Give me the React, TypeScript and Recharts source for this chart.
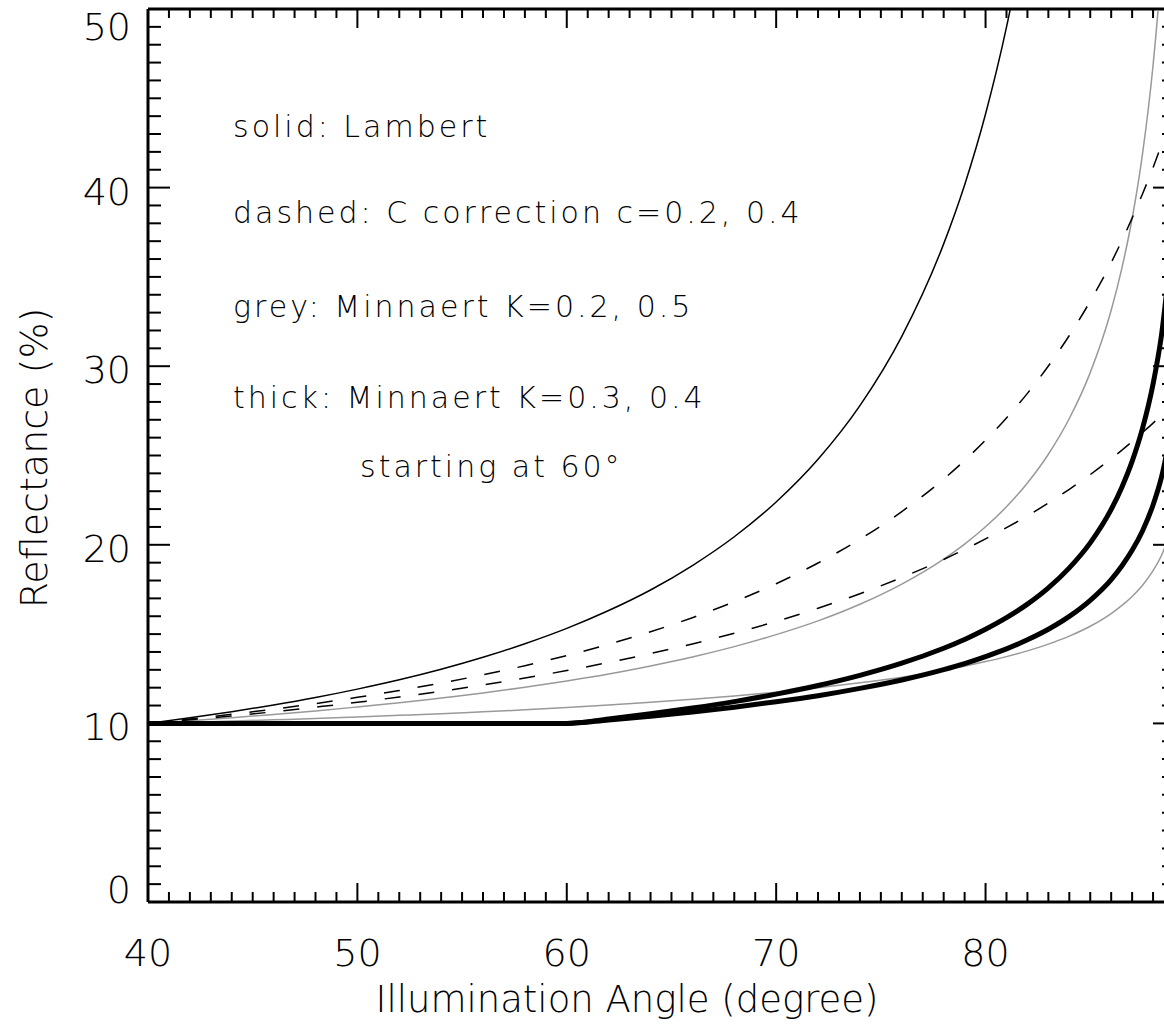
import React from "react";
import { LineChart, Line, XAxis, YAxis, ReferenceLine } from "recharts";

// illumination angle (degree)
const angles = [
  40, 42, 44, 46, 48, 50, 52, 54, 56, 58, 60, 62, 64, 66, 68, 70, 72, 74, 76, 78,
  79, 80, 81, 82, 83, 84, 85, 86, 86.5, 87, 87.5, 88, 88.4, 89,
];

// reflectance (%)
const lambert = [
  10, 10.31, 10.65, 11.03, 11.45, 11.92, 12.44, 13.03, 13.7, 14.46, 15.32, 16.32, 17.47, 18.84, 20.45, 22.4, 24.79, 27.79, 31.67, 36.85,
  40.15, 44.12, 48.98, 55.03, null, null, null, null, null, null, null, null, null, null,
];
const cCorr02 = [
  10, 10.24, 10.51, 10.8, 11.11, 11.46, 11.84, 12.26, 12.72, 13.23, 13.8, 14.43, 15.13, 15.92, 16.81, 17.82, 18.98, 20.31, 21.86, 23.68,
  24.72, 25.86, 27.1, 28.48, 30.01, 31.72, 33.64, 35.8, 37.01, 38.29, 39.66, 41.12, 42.39, 44.42,
];
const cCorr04 = [
  10, 10.2, 10.42, 10.65, 10.91, 11.18, 11.48, 11.8, 12.16, 12.54, 12.96, 13.41, 13.91, 14.45, 15.05, 15.71, 16.45, 17.26, 18.17, 19.18,
  19.74, 20.33, 20.96, 21.62, 22.34, 23.11, 23.93, 24.82, 25.29, 25.78, 26.29, 26.81, 27.25, 27.93,
];
const minn02 = [
  10, 10.06, 10.13, 10.2, 10.27, 10.36, 10.45, 10.54, 10.65, 10.76, 10.89, 11.03, 11.18, 11.35, 11.54, 11.75, 11.99, 12.27, 12.59, 12.98,
  13.2, 13.46, 13.74, 14.06, 14.44, 14.89, 15.44, 16.15, 16.59, 17.11, 17.74, 18.55, 19.4, 21.31,
];
const minn05 = [
  10, 10.15, 10.32, 10.5, 10.7, 10.92, 11.15, 11.42, 11.7, 12.02, 12.38, 12.77, 13.22, 13.72, 14.3, 14.97, 15.74, 16.67, 17.8, 19.2,
  20.04, 21.01, 22.13, 23.46, 25.07, 27.07, 29.64, 33.13, 35.44, 38.27, 41.92, 46.85, 52.4, 66.25,
];
const thick03 = [
  10, 10, 10, 10, 10, 10, 10, 10, 10, 10, 10, 10.19, 10.4, 10.64, 10.91, 11.21, 11.55, 11.96, 12.43, 13.01,
  13.35, 13.74, 14.17, 14.68, 15.27, 15.99, 16.89, 18.05, 18.8, 19.69, 20.79, 22.23, 23.77, 27.36,
];
const thick04 = [
  10, 10, 10, 10, 10, 10, 10, 10, 10, 10, 10, 10.25, 10.54, 10.86, 11.22, 11.64, 12.12, 12.69, 13.37, 14.21,
  14.7, 15.27, 15.92, 16.68, 17.59, 18.71, 20.11, 21.98, 23.2, 24.67, 26.53, 29.0, 31.72, 38.27,
];

const xTicks = Array.from({ length: 50 }, (_, i) => 40 + i);
const yTicks = Array.from({ length: 51 }, (_, i) => i);

const notes = [
  "solid: Lambert",
  "dashed: C correction c=0.2, 0.4",
  "grey: Minnaert K=0.2, 0.5",
  "thick: Minnaert K=0.3, 0.4",
  "starting at 60°",
];

const data = angles.map((a, i) => ({
  angle: a,
  lambert: lambert[i],
  c02: cCorr02[i],
  c04: cCorr04[i],
  m02: minn02[i],
  m05: minn05[i],
  t03: thick03[i],
  t04: thick04[i],
}));

const W = 1180;
const H = 1032;
const TOP = 9;
const RIGHT = 1174;
const FONT = "'DejaVu Sans', sans-serif";

function XTick(props: any) {
  const { x, y, payload } = props;
  const v = payload.value;
  const major = v % 10 === 0;
  return (
    <g>
      <line x1={x} y1={y} x2={x} y2={y - (major ? 19 : 10)} stroke="#000" strokeWidth={2} />
      <line x1={x} y1={TOP} x2={x} y2={TOP + (major ? 19 : 9)} stroke="#000" strokeWidth={2} />
      {major && (
        <text x={x} y={y + 64} textAnchor="middle" fontFamily={FONT} fontWeight={200} fontSize={38} fill="#000">
          {v}
        </text>
      )}
    </g>
  );
}

function YTick(props: any) {
  const { x, y, payload } = props;
  const v = payload.value;
  const major = v % 10 === 0;
  const dy = v === 50 ? 31 : v === 0 ? 1 : 17;
  return (
    <g>
      <line x1={x} y1={y} x2={x + (major ? 22 : 13)} y2={y} stroke="#000" strokeWidth={2} />
      <line x1={RIGHT} y1={y} x2={RIGHT - (major ? 21 : 12)} y2={y} stroke="#000" strokeWidth={2} />
      {major && (
        <text x={x - 17} y={y + dy} textAnchor="end" fontFamily={FONT} fontWeight={200} fontSize={38} fill="#000">
          {v}
        </text>
      )}
    </g>
  );
}

const noteY = [137, 223, 317, 408, 477];

export default function App() {
  return (
    <div style={{ position: "absolute", left: 0, top: 0, width: 1164, height: 1032, overflow: "hidden", background: "#fff" }}>
      <LineChart width={W} height={H} data={data} margin={{ top: TOP, right: W - RIGHT, bottom: 0, left: 0 }}>
        <XAxis
          dataKey="angle"
          type="number"
          domain={[40, 89]}
          allowDataOverflow
          ticks={xTicks}
          interval={0}
          height={130}
          tickSize={0}
          tickMargin={0}
          tickLine={false}
          axisLine={{ stroke: "#000", strokeWidth: 3 }}
          tick={<XTick />}
        />
        <YAxis
          type="number"
          domain={[0, 50]}
          allowDataOverflow
          ticks={yTicks}
          interval={0}
          width={148}
          tickSize={0}
          tickMargin={0}
          tickLine={false}
          axisLine={{ stroke: "#000", strokeWidth: 3 }}
          tick={<YTick />}
        />
        <ReferenceLine y={50} stroke="#000" strokeWidth={3} />
        <ReferenceLine x={89} stroke="#000" strokeWidth={3} />
        <Line dataKey="m02" type="monotone" stroke="#999" strokeWidth={1.5} dot={false} isAnimationActive={false} />
        <Line dataKey="m05" type="monotone" stroke="#999" strokeWidth={1.5} dot={false} isAnimationActive={false} />
        <Line dataKey="c02" type="monotone" stroke="#000" strokeWidth={1.5} strokeDasharray="16 18" dot={false} isAnimationActive={false} />
        <Line dataKey="c04" type="monotone" stroke="#000" strokeWidth={1.5} strokeDasharray="16 18" dot={false} isAnimationActive={false} />
        <Line dataKey="lambert" type="monotone" stroke="#000" strokeWidth={1.5} dot={false} isAnimationActive={false} />
        <Line dataKey="t03" type="monotone" stroke="#000" strokeWidth={5} dot={false} isAnimationActive={false} />
        <Line dataKey="t04" type="monotone" stroke="#000" strokeWidth={5} dot={false} isAnimationActive={false} />
      </LineChart>
      <svg width={1164} height={1032} style={{ position: "absolute", left: 0, top: 0, pointerEvents: "none" }}>
        {notes.map((t, i) => (
          <text
            key={t}
            x={i === 4 ? 360 : 233}
            y={noteY[i]}
            fontFamily={FONT}
            fontWeight={200}
            fontSize={30}
            letterSpacing={3}
            fill="#000"
          >
            {t}
          </text>
        ))}
        <text x={627} y={1012} textAnchor="middle" fontFamily={FONT} fontWeight={200} fontSize={37} fill="#000">
          Illumination Angle (degree)
        </text>
        <text
          x={47}
          y={458}
          textAnchor="middle"
          transform="rotate(-90, 47, 458)"
          fontFamily={FONT}
          fontWeight={200}
          fontSize={38}
          fill="#000"
        >
          Reflectance (%)
        </text>
      </svg>
    </div>
  );
}
